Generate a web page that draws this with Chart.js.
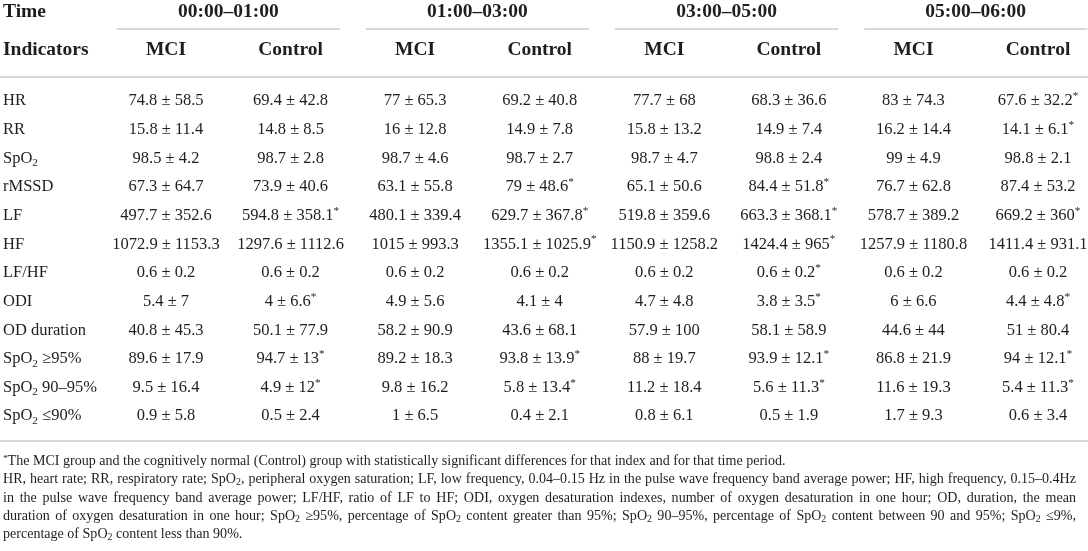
<!DOCTYPE html>
<html>
<head>
<meta charset="utf-8">
<script src="https://cdn.jsdelivr.net/npm/chart.js@4.4.1/dist/chart.umd.min.js"></script>
<style>
  html, body { margin: 0; padding: 0; background: #fff; overflow: hidden; }
  #wrap { position: absolute; left: 0; top: 0; width: 1088px; height: 452px; }
  #notes { position: absolute; left: 3px; top: 451px; width: 1073px;
    font-family: "Liberation Serif", "Times New Roman", serif; font-size: 14.05px; line-height: 18.3px; color: #1e1e1e; }
  #notes div { white-space: nowrap; }
  #notes .j { text-align: justify; text-align-last: justify; }
  sub { font-size: 70%; vertical-align: -0.25em; line-height: 0; }
  sup { font-size: 65%; vertical-align: 0.45em; line-height: 0; }
</style>
</head>
<body>
<div id="wrap"><canvas id="c" width="1088" height="452"></canvas></div>
<div id="notes">
  <div><sup>*</sup>The MCI group and the cognitively normal (Control) group with statistically significant differences for that index and for that time period.</div>
  <div class="j">HR, heart rate; RR, respiratory rate; SpO<sub>2</sub>, peripheral oxygen saturation; LF, low frequency, 0.04–0.15 Hz in the pulse wave frequency band average power; HF, high frequency, 0.15–0.4Hz</div>
  <div class="j">in the pulse wave frequency band average power; LF/HF, ratio of LF to HF; ODI, oxygen desaturation indexes, number of oxygen desaturation in one hour; OD, duration, the mean</div>
  <div class="j">duration of oxygen desaturation in one hour; SpO<sub>2</sub> ≥95%, percentage of SpO<sub>2</sub> content greater than 95%; SpO<sub>2</sub> 90–95%, percentage of SpO<sub>2</sub> content between 90 and 95%; SpO<sub>2</sub> ≤9%,</div>
  <div>percentage of SpO<sub>2</sub> content less than 90%.</div>
</div>
<script>
// ---------- data ----------
const timePeriods = ['00:00–01:00', '01:00–03:00', '03:00–05:00', '05:00–06:00'];
const groups = ['MCI', 'Control'];
const indicators = ['HR', 'RR', 'SpO₂', 'rMSSD', 'LF', 'HF', 'LF/HF', 'ODI', 'OD duration', 'SpO₂ ≥95%', 'SpO₂ 90–95%', 'SpO₂ ≤90%'];

const mci0001Mean = [74.8, 15.8, 98.5, 67.3, 497.7, 1072.9, 0.6, 5.4, 40.8, 89.6, 9.5, 0.9];
const mci0001SD   = [58.5, 11.4, 4.2, 64.7, 352.6, 1153.3, 0.2, 7, 45.3, 17.9, 16.4, 5.8];
const mci0001Sig  = [0, 0, 0, 0, 0, 0, 0, 0, 0, 0, 0, 0];
const ctl0001Mean = [69.4, 14.8, 98.7, 73.9, 594.8, 1297.6, 0.6, 4, 50.1, 94.7, 4.9, 0.5];
const ctl0001SD   = [42.8, 8.5, 2.8, 40.6, 358.1, 1112.6, 0.2, 6.6, 77.9, 13, 12, 2.4];
const ctl0001Sig  = [0, 0, 0, 0, 1, 0, 0, 1, 0, 1, 1, 0];

const mci0103Mean = [77, 16, 98.7, 63.1, 480.1, 1015, 0.6, 4.9, 58.2, 89.2, 9.8, 1];
const mci0103SD   = [65.3, 12.8, 4.6, 55.8, 339.4, 993.3, 0.2, 5.6, 90.9, 18.3, 16.2, 6.5];
const mci0103Sig  = [0, 0, 0, 0, 0, 0, 0, 0, 0, 0, 0, 0];
const ctl0103Mean = [69.2, 14.9, 98.7, 79, 629.7, 1355.1, 0.6, 4.1, 43.6, 93.8, 5.8, 0.4];
const ctl0103SD   = [40.8, 7.8, 2.7, 48.6, 367.8, 1025.9, 0.2, 4, 68.1, 13.9, 13.4, 2.1];
const ctl0103Sig  = [0, 0, 0, 1, 1, 1, 0, 0, 0, 1, 1, 0];

const mci0305Mean = [77.7, 15.8, 98.7, 65.1, 519.8, 1150.9, 0.6, 4.7, 57.9, 88, 11.2, 0.8];
const mci0305SD   = [68, 13.2, 4.7, 50.6, 359.6, 1258.2, 0.2, 4.8, 100, 19.7, 18.4, 6.1];
const mci0305Sig  = [0, 0, 0, 0, 0, 0, 0, 0, 0, 0, 0, 0];
const ctl0305Mean = [68.3, 14.9, 98.8, 84.4, 663.3, 1424.4, 0.6, 3.8, 58.1, 93.9, 5.6, 0.5];
const ctl0305SD   = [36.6, 7.4, 2.4, 51.8, 368.1, 965, 0.2, 3.5, 58.9, 12.1, 11.3, 1.9];
const ctl0305Sig  = [0, 0, 0, 1, 1, 1, 1, 1, 0, 1, 1, 0];

const mci0506Mean = [83, 16.2, 99, 76.7, 578.7, 1257.9, 0.6, 6, 44.6, 86.8, 11.6, 1.7];
const mci0506SD   = [74.3, 14.4, 4.9, 62.8, 389.2, 1180.8, 0.2, 6.6, 44, 21.9, 19.3, 9.3];
const mci0506Sig  = [0, 0, 0, 0, 0, 0, 0, 0, 0, 0, 0, 0];
const ctl0506Mean = [67.6, 14.1, 98.8, 87.4, 669.2, 1411.4, 0.6, 4.4, 51, 94, 5.4, 0.6];
const ctl0506SD   = [32.2, 6.1, 2.1, 53.2, 360, 931.1, 0.2, 4.8, 80.4, 12.1, 11.3, 3.4];
const ctl0506Sig  = [1, 1, 0, 0, 1, 0, 0, 1, 0, 1, 1, 0];

// ---------- assemble ----------
const columns = [
  [mci0001Mean, mci0001SD, mci0001Sig], [ctl0001Mean, ctl0001SD, ctl0001Sig],
  [mci0103Mean, mci0103SD, mci0103Sig], [ctl0103Mean, ctl0103SD, ctl0103Sig],
  [mci0305Mean, mci0305SD, mci0305Sig], [ctl0305Mean, ctl0305SD, ctl0305Sig],
  [mci0506Mean, mci0506SD, mci0506Sig], [ctl0506Mean, ctl0506SD, ctl0506Sig]
];
const colKeys = [];
timePeriods.forEach(tp => groups.forEach(g => colKeys.push(tp + ' ' + g)));

const datasets = columns.map(([mean, sd, sig], ci) => ({
  label: colKeys[ci],
  data: indicators.map((ind, ri) => ({ x: colKeys[ci], y: ind, m: mean[ri], s: sd[ri], sig: sig[ri] })),
  pointRadius: 0,
  pointHoverRadius: 0
}));

const SERIF = '"Liberation Serif", "Times New Roman", serif';
const TEXT = '#1e1e1e';
const RULE = '#cbcbcb';
const BODY = 16.5, HEAD = 19.5;

// draw text with "₂" as subscript and "*" as superscript
function richParts(text) {
  const parts = [];
  for (const ch of text) {
    const kind = ch === '₂' ? 'sub' : (ch === '*' ? 'sup' : 'n');
    const c = ch === '₂' ? '2' : ch;
    if (parts.length && parts[parts.length - 1].kind === kind) parts[parts.length - 1].t += c;
    else parts.push({ kind, t: c });
  }
  return parts;
}
function drawRich(ctx, text, x, y, align, size, weight) {
  const parts = richParts(text);
  const fontFor = k => (weight ? weight + ' ' : '') + (k === 'n' ? size : size * 0.68) + 'px ' + SERIF;
  let w = 0;
  parts.forEach(p => { ctx.font = fontFor(p.kind); p.w = ctx.measureText(p.t).width; w += p.w; });
  let cx = align === 'center' ? x - w / 2 : x;
  ctx.textAlign = 'left';
  ctx.textBaseline = 'alphabetic';
  const base = y + size * 0.33;
  parts.forEach(p => {
    ctx.font = fontFor(p.kind);
    const dy = p.kind === 'sub' ? size * 0.22 : (p.kind === 'sup' ? -size * 0.38 : 0);
    ctx.fillText(p.t, cx, base + dy);
    cx += p.w;
  });
}

const tablePlugin = {
  id: 'tableText',
  afterDatasetsDraw(chart) {
    const { ctx, scales: { x, y } } = chart;
    const step = x.getPixelForValue(1) - x.getPixelForValue(0);
    const top = y.getPixelForValue(0);
    const bottom = y.getPixelForValue(indicators.length - 1);
    const groupLineY = top - 71, headY = top - 51, timeY = top - 89;
    ctx.save();
    ctx.fillStyle = TEXT;
    ctx.strokeStyle = RULE;
    ctx.lineWidth = 1.6;
    const hLine = (x1, x2, yy) => { ctx.beginPath(); ctx.moveTo(x1, yy); ctx.lineTo(x2, yy); ctx.stroke(); };
    hLine(0, chart.width, top - 23);
    hLine(0, chart.width, bottom + 26);

    drawRich(ctx, 'Time', 3, timeY, 'left', HEAD, 'bold');
    drawRich(ctx, 'Indicators', 3, headY, 'left', HEAD, 'bold');
    timePeriods.forEach((tp, g) => {
      const xa = x.getPixelForValue(2 * g), xb = x.getPixelForValue(2 * g + 1);
      hLine(xa - step / 2 + 13, Math.min(xb + step / 2 - 13, chart.width), groupLineY);
      drawRich(ctx, tp, (xa + xb) / 2, timeY, 'center', HEAD, 'bold');
      groups.forEach((gr, k) => drawRich(ctx, gr, x.getPixelForValue(2 * g + k), headY, 'center', HEAD, 'bold'));
    });

    indicators.forEach((ind, ri) => drawRich(ctx, ind, 3, y.getPixelForValue(ri), 'left', BODY, ''));

    chart.data.datasets.forEach((ds, di) => {
      const meta = chart.getDatasetMeta(di);
      meta.data.forEach((el, i) => {
        const d = ds.data[i];
        drawRich(ctx, d.m + ' ± ' + d.s + (d.sig ? '*' : ''), el.x, el.y, 'center', BODY, '');
      });
    });
    ctx.restore();
  }
};

new Chart(document.getElementById('c'), {
  type: 'scatter',
  data: { datasets },
  options: {
    responsive: false,
    animation: false,
    events: [],
    layout: { padding: { left: 166, right: 50, top: 100, bottom: 37 } },
    scales: {
      x: { type: 'category', labels: colKeys, offset: false, display: false },
      y: { type: 'category', labels: indicators, offset: false, display: false }
    },
    plugins: { legend: { display: false }, tooltip: { enabled: false } }
  },
  plugins: [tablePlugin]
});
</script>
</body>
</html>
